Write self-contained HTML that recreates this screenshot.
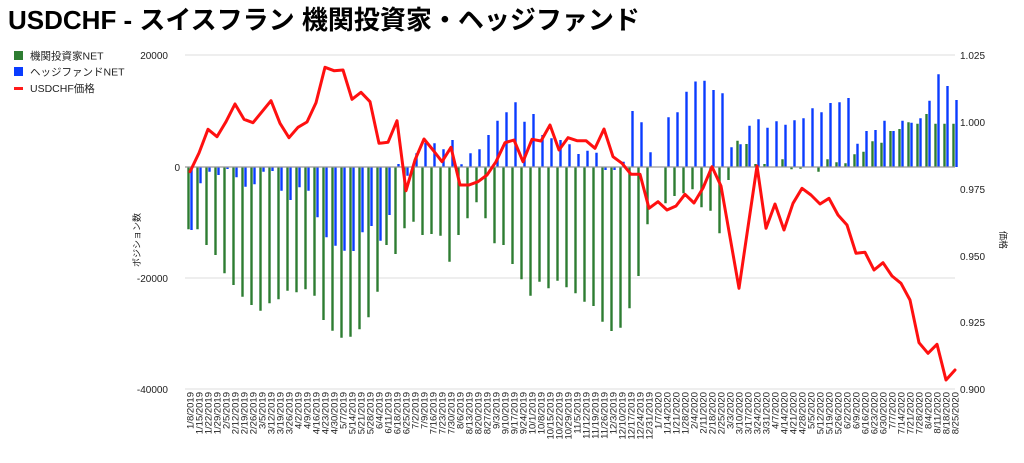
<!DOCTYPE html>
<html><head><meta charset="utf-8"><style>
body{margin:0;background:#fff;width:1024px;height:458px;overflow:hidden;font-family:"Liberation Sans","Noto Sans CJK JP",sans-serif}
</style></head><body>
<svg width="1024" height="458" viewBox="0 0 1024 458" xmlns="http://www.w3.org/2000/svg" font-family="Liberation Sans, Noto Sans CJK JP, sans-serif">
<text x="8" y="29" font-size="26" font-weight="bold" fill="#000">USDCHF - スイスフラン 機関投資家・ヘッジファンド</text>
<rect x="14" y="51" width="9" height="9" fill="#2e7d32"/><text x="30" y="59.5" font-size="10.5" fill="#222">機関投資家NET</text>
<rect x="14" y="67" width="9" height="9" fill="#0a3cff"/><text x="30" y="75.5" font-size="10.5" fill="#222">ヘッジファンドNET</text>
<rect x="14" y="87" width="9" height="3" fill="#ff1a1a"/><text x="30" y="92" font-size="10.5" fill="#222">USDCHF価格</text>
<g stroke="#ddd" stroke-width="1"><line x1="185" y1="55" x2="955" y2="55"/><line x1="185" y1="278" x2="955" y2="278"/><line x1="185" y1="389" x2="955" y2="389"/></g>
<g font-size="10" fill="#222" text-anchor="end"><text x="168" y="59">20000</text><text x="180" y="171">0</text><text x="168" y="282">-20000</text><text x="168" y="393">-40000</text></g>
<g font-size="10" fill="#222"><text x="960" y="59">1.025</text><text x="960" y="126">1.000</text><text x="960" y="193">0.975</text><text x="960" y="260">0.950</text><text x="960" y="326">0.925</text><text x="960" y="393">0.900</text></g>
<text transform="translate(140,240) rotate(-90)" font-size="9" text-anchor="middle" fill="#222">ポジション数</text>
<text transform="translate(1000,240) rotate(90)" font-size="9" text-anchor="middle" fill="#222">価格</text>
<g transform="translate(-1.5,0)"><path stroke="#2e7d32" stroke-width="2.4" fill="none" d="M190 167V229.3M199 167V229.3M208 167V245M217 167V255M226 167V273.3M235 167V285M244 167V296.7M253 167V305M262 167V310.7M271 167V303.3M280 167V299.3M289 167V290.7M298 167V292.3M307 167V289.3M316 167V295.7M325 167V320M334 167V330.7M343 167V337.7M352 167V336.7M361 167V329.3M370 167V317.3M379 167V291.7M388 167V245M397 167V254M406 167V228.3M415 167V221.7M424 167V235M433 167V234M442 167V235.7M451 167V261.7M460 167V235M469 167V218.3M478 167V202.3M487 167V218.3M496 167V243.3M505 167V245M514 167V264M523 167V279.3M532 167V295.7M541 167V281.7M550 167V288.3M559 167V280.7M568 167V287.3M577 167V293.3M586 167V301.7M595 167V306M604 167V321.7M613 167V331M622 167V327.7M631 167V308.3M640 167V276M649 167V224.3M667 167V203.3M676 167V196M685 167V193.3M694 167V189.3M703 167V207.3M712 167V210.7M721 167V233.3M730 167V180M739 167V140.7M748 167V144M757 167V164M766 167V164M784 167V159.3M793 167V169.3M802 167V168.7M820 167V171.7M829 167V159.3M838 167V162.3M847 167V163.3M856 167V154.3M865 167V151.7M874 167V141.3M883 167V142.7M892 167V131M901 167V129M910 167V122.3M919 167V123.7M928 167V114M937 167V123.7M946 167V123.7M955 167V123.7"/></g>
<g transform="translate(1.5,0)"><path stroke="#0a3cff" stroke-width="2.4" fill="none" d="M190 167V230M199 167V183.3M208 167V171.7M217 167V175M226 167V169M235 167V177.3M244 167V186.7M253 167V184.3M262 167V171.7M271 167V171M280 167V190.7M289 167V200M298 167V187.3M307 167V190.7M316 167V217.3M325 167V237.3M334 167V245.7M343 167V250.7M352 167V251M361 167V232.3M370 167V226M379 167V240.7M388 167V215M397 167V164M406 167V175.7M415 167V153.3M424 167V142.7M433 167V143.3M442 167V149.3M451 167V140M460 167V164.3M469 167V153.3M478 167V149.3M487 167V135M496 167V120.7M505 167V112.3M514 167V102.3M523 167V121.7M532 167V114M541 167V135M550 167V138.3M559 167V140M568 167V144.3M577 167V154M586 167V150.7M595 167V152.7M604 167V170M613 167V170M622 167V161.7M631 167V111M640 167V122.3M649 167V152.3M667 167V117.3M676 167V112.3M685 167V91.7M694 167V81.5M703 167V80.7M712 167V90M721 167V93.3M730 167V147.3M739 167V144.3M748 167V125.7M757 167V119.3M766 167V127.7M775 167V121.3M784 167V124.7M793 167V120.3M802 167V118.3M811 167V108.3M820 167V112.3M829 167V103M838 167V102.3M847 167V98M856 167V143.7M865 167V131M874 167V130M883 167V120.7M892 167V131M901 167V120.7M910 167V122.7M919 167V118.3M928 167V100.7M937 167V74.3M946 167V86M955 167V100"/></g>
<line x1="185" y1="167" x2="955" y2="167" stroke="#999" stroke-width="1.2"/>
<polyline fill="none" stroke="#ff1010" stroke-width="3" stroke-linejoin="round" stroke-linecap="round" points="190,171.7 199,153 208,129.3 217,136.7 226,121.7 235,104 244,119.3 253,122.7 262,111.7 271,100.7 280,123.3 289,137.7 298,127.3 307,122 316,102.7 325,67.3 334,70.7 343,70 352,99.3 361,92.3 370,101.7 379,143.3 388,142.3 397,120.7 406,190.7 415,160 424,139 433,150 442,161.7 451,147.3 460,185 469,185 478,181.7 487,175 496,161.7 505,142.7 514,140 523,161.7 532,139.3 541,141 550,125 559,150 568,137.7 577,140.7 586,140.7 595,148.3 604,129 613,156.7 622,163.3 631,174.3 640,174.3 649,208.3 658,201.7 667,210 676,206 685,194.3 694,203 703,188 712,166.7 721,186 730,237 739,288.3 748,227 757,166 766,228.3 775,204 784,230 793,203.3 802,188.3 811,195 820,204 829,198.3 838,215 847,225 856,253.3 865,252.3 874,270 883,262.7 892,276 901,283.3 910,300 919,342.7 928,353.3 937,344.3 946,380 955,370"/>
<g font-size="9.5" fill="#222" text-anchor="end">
<text transform="translate(193.5,392) rotate(-90)">1/8/2019</text>
<text transform="translate(202.5,392) rotate(-90)">1/15/2019</text>
<text transform="translate(211.5,392) rotate(-90)">1/22/2019</text>
<text transform="translate(220.5,392) rotate(-90)">1/29/2019</text>
<text transform="translate(229.5,392) rotate(-90)">2/5/2019</text>
<text transform="translate(238.5,392) rotate(-90)">2/12/2019</text>
<text transform="translate(247.5,392) rotate(-90)">2/19/2019</text>
<text transform="translate(256.5,392) rotate(-90)">2/26/2019</text>
<text transform="translate(265.5,392) rotate(-90)">3/5/2019</text>
<text transform="translate(274.5,392) rotate(-90)">3/12/2019</text>
<text transform="translate(283.5,392) rotate(-90)">3/19/2019</text>
<text transform="translate(292.5,392) rotate(-90)">3/26/2019</text>
<text transform="translate(301.5,392) rotate(-90)">4/2/2019</text>
<text transform="translate(310.5,392) rotate(-90)">4/9/2019</text>
<text transform="translate(319.5,392) rotate(-90)">4/16/2019</text>
<text transform="translate(328.5,392) rotate(-90)">4/23/2019</text>
<text transform="translate(337.5,392) rotate(-90)">4/30/2019</text>
<text transform="translate(346.5,392) rotate(-90)">5/7/2019</text>
<text transform="translate(355.5,392) rotate(-90)">5/14/2019</text>
<text transform="translate(364.5,392) rotate(-90)">5/21/2019</text>
<text transform="translate(373.5,392) rotate(-90)">5/28/2019</text>
<text transform="translate(382.5,392) rotate(-90)">6/4/2019</text>
<text transform="translate(391.5,392) rotate(-90)">6/11/2019</text>
<text transform="translate(400.5,392) rotate(-90)">6/18/2019</text>
<text transform="translate(409.5,392) rotate(-90)">6/25/2019</text>
<text transform="translate(418.5,392) rotate(-90)">7/2/2019</text>
<text transform="translate(427.5,392) rotate(-90)">7/9/2019</text>
<text transform="translate(436.5,392) rotate(-90)">7/16/2019</text>
<text transform="translate(445.5,392) rotate(-90)">7/23/2019</text>
<text transform="translate(454.5,392) rotate(-90)">7/30/2019</text>
<text transform="translate(463.5,392) rotate(-90)">8/6/2019</text>
<text transform="translate(472.5,392) rotate(-90)">8/13/2019</text>
<text transform="translate(481.5,392) rotate(-90)">8/20/2019</text>
<text transform="translate(490.5,392) rotate(-90)">8/27/2019</text>
<text transform="translate(499.5,392) rotate(-90)">9/3/2019</text>
<text transform="translate(508.5,392) rotate(-90)">9/10/2019</text>
<text transform="translate(517.5,392) rotate(-90)">9/17/2019</text>
<text transform="translate(526.5,392) rotate(-90)">9/24/2019</text>
<text transform="translate(535.5,392) rotate(-90)">10/1/2019</text>
<text transform="translate(544.5,392) rotate(-90)">10/8/2019</text>
<text transform="translate(553.5,392) rotate(-90)">10/15/2019</text>
<text transform="translate(562.5,392) rotate(-90)">10/22/2019</text>
<text transform="translate(571.5,392) rotate(-90)">10/29/2019</text>
<text transform="translate(580.5,392) rotate(-90)">11/5/2019</text>
<text transform="translate(589.5,392) rotate(-90)">11/12/2019</text>
<text transform="translate(598.5,392) rotate(-90)">11/19/2019</text>
<text transform="translate(607.5,392) rotate(-90)">11/26/2019</text>
<text transform="translate(616.5,392) rotate(-90)">12/3/2019</text>
<text transform="translate(625.5,392) rotate(-90)">12/10/2019</text>
<text transform="translate(634.5,392) rotate(-90)">12/17/2019</text>
<text transform="translate(643.5,392) rotate(-90)">12/24/2019</text>
<text transform="translate(652.5,392) rotate(-90)">12/31/2019</text>
<text transform="translate(661.5,392) rotate(-90)">1/7/2020</text>
<text transform="translate(670.5,392) rotate(-90)">1/14/2020</text>
<text transform="translate(679.5,392) rotate(-90)">1/21/2020</text>
<text transform="translate(688.5,392) rotate(-90)">1/28/2020</text>
<text transform="translate(697.5,392) rotate(-90)">2/4/2020</text>
<text transform="translate(706.5,392) rotate(-90)">2/11/2020</text>
<text transform="translate(715.5,392) rotate(-90)">2/18/2020</text>
<text transform="translate(724.5,392) rotate(-90)">2/25/2020</text>
<text transform="translate(733.5,392) rotate(-90)">3/3/2020</text>
<text transform="translate(742.5,392) rotate(-90)">3/10/2020</text>
<text transform="translate(751.5,392) rotate(-90)">3/17/2020</text>
<text transform="translate(760.5,392) rotate(-90)">3/24/2020</text>
<text transform="translate(769.5,392) rotate(-90)">3/31/2020</text>
<text transform="translate(778.5,392) rotate(-90)">4/7/2020</text>
<text transform="translate(787.5,392) rotate(-90)">4/14/2020</text>
<text transform="translate(796.5,392) rotate(-90)">4/21/2020</text>
<text transform="translate(805.5,392) rotate(-90)">4/28/2020</text>
<text transform="translate(814.5,392) rotate(-90)">5/5/2020</text>
<text transform="translate(823.5,392) rotate(-90)">5/12/2020</text>
<text transform="translate(832.5,392) rotate(-90)">5/19/2020</text>
<text transform="translate(841.5,392) rotate(-90)">5/26/2020</text>
<text transform="translate(850.5,392) rotate(-90)">6/2/2020</text>
<text transform="translate(859.5,392) rotate(-90)">6/9/2020</text>
<text transform="translate(868.5,392) rotate(-90)">6/16/2020</text>
<text transform="translate(877.5,392) rotate(-90)">6/23/2020</text>
<text transform="translate(886.5,392) rotate(-90)">6/30/2020</text>
<text transform="translate(895.5,392) rotate(-90)">7/7/2020</text>
<text transform="translate(904.5,392) rotate(-90)">7/14/2020</text>
<text transform="translate(913.5,392) rotate(-90)">7/21/2020</text>
<text transform="translate(922.5,392) rotate(-90)">7/28/2020</text>
<text transform="translate(931.5,392) rotate(-90)">8/4/2020</text>
<text transform="translate(940.5,392) rotate(-90)">8/11/2020</text>
<text transform="translate(949.5,392) rotate(-90)">8/18/2020</text>
<text transform="translate(958.5,392) rotate(-90)">8/25/2020</text>
</g>
</svg>
</body></html>
